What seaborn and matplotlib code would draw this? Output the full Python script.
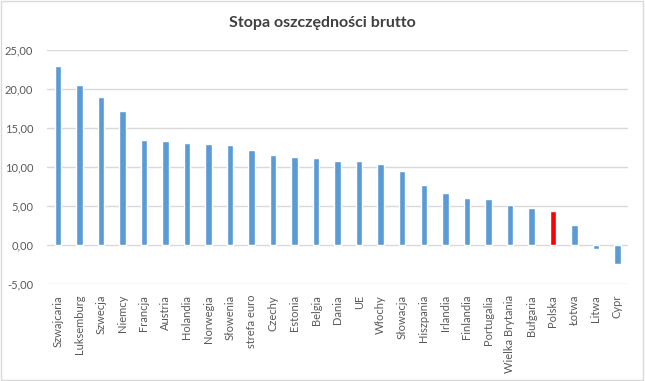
import pandas as pd
import seaborn as sns
import matplotlib.pyplot as plt
from matplotlib.patches import Rectangle

countries = ["Szwajcaria", "Luksemburg", "Szwecja", "Niemcy", "Francja", "Austria",
             "Holandia", "Norwegia", "Słowenia", "strefa euro", "Czechy", "Estonia",
             "Belgia", "Dania", "UE", "Włochy", "Słowacja", "Hiszpania", "Irlandia",
             "Finlandia", "Portugalia", "Wielka Brytania", "Bułgaria", "Polska",
             "Łotwa", "Litwa", "Cypr"]
rates = [22.9, 20.5, 18.9, 17.2, 13.4, 13.3, 13.1, 12.95, 12.8, 12.2, 11.5, 11.3,
         11.15, 10.8, 10.8, 10.4, 9.5, 7.7, 6.7, 6.05, 5.9, 5.15, 4.75, 4.4,
         2.6, -0.5, -2.4]
yticks = [-5, 0, 5, 10, 15, 20, 25]

df = pd.DataFrame({"kraj": countries, "stopa": rates})
colors = {c: ("#ff0000" if c == "Polska" else "#5b9bd5") for c in countries}

sns.set_style("white")
plt.rcParams["font.family"] = ["Lato", "DejaVu Sans"]

fig = plt.figure(figsize=(6.45, 3.81), dpi=100)
ax = fig.add_axes([0.073, 0.255, 0.901, 0.614])

sns.barplot(data=df, x="kraj", y="stopa", hue="kraj", palette=colors,
            legend=False, width=0.3, ax=ax, saturation=1)

ax.set_ylim(-5, 25)
ax.set_yticks(yticks)
ax.set_yticklabels([f"{v:.2f}".replace(".", ",") for v in yticks],
                   color="#595959", fontsize=8)
ax.set_xlim(-0.5, len(countries) - 0.5)
ax.tick_params(axis="x", rotation=90, labelsize=8, labelcolor="#595959", length=0, pad=8)
ax.tick_params(axis="y", length=0, pad=10)
ax.grid(axis="y", color="#d9d9d9", linewidth=1)
ax.set_axisbelow(True)
for s in ax.spines.values():
    s.set_visible(False)
ax.set_xlabel("")
ax.set_ylabel("")

fig.text(0.5, 0.94, "Stopa oszczędności brutto", ha="center", va="center",
         fontsize=11.5, fontweight="bold", color="#404040")
fig.patches.append(Rectangle((0.002, 0.003), 0.995, 0.994, transform=fig.transFigure,
                             fill=False, edgecolor="#d9d9d9", linewidth=1))

fig.savefig("out.png", dpi=100)
